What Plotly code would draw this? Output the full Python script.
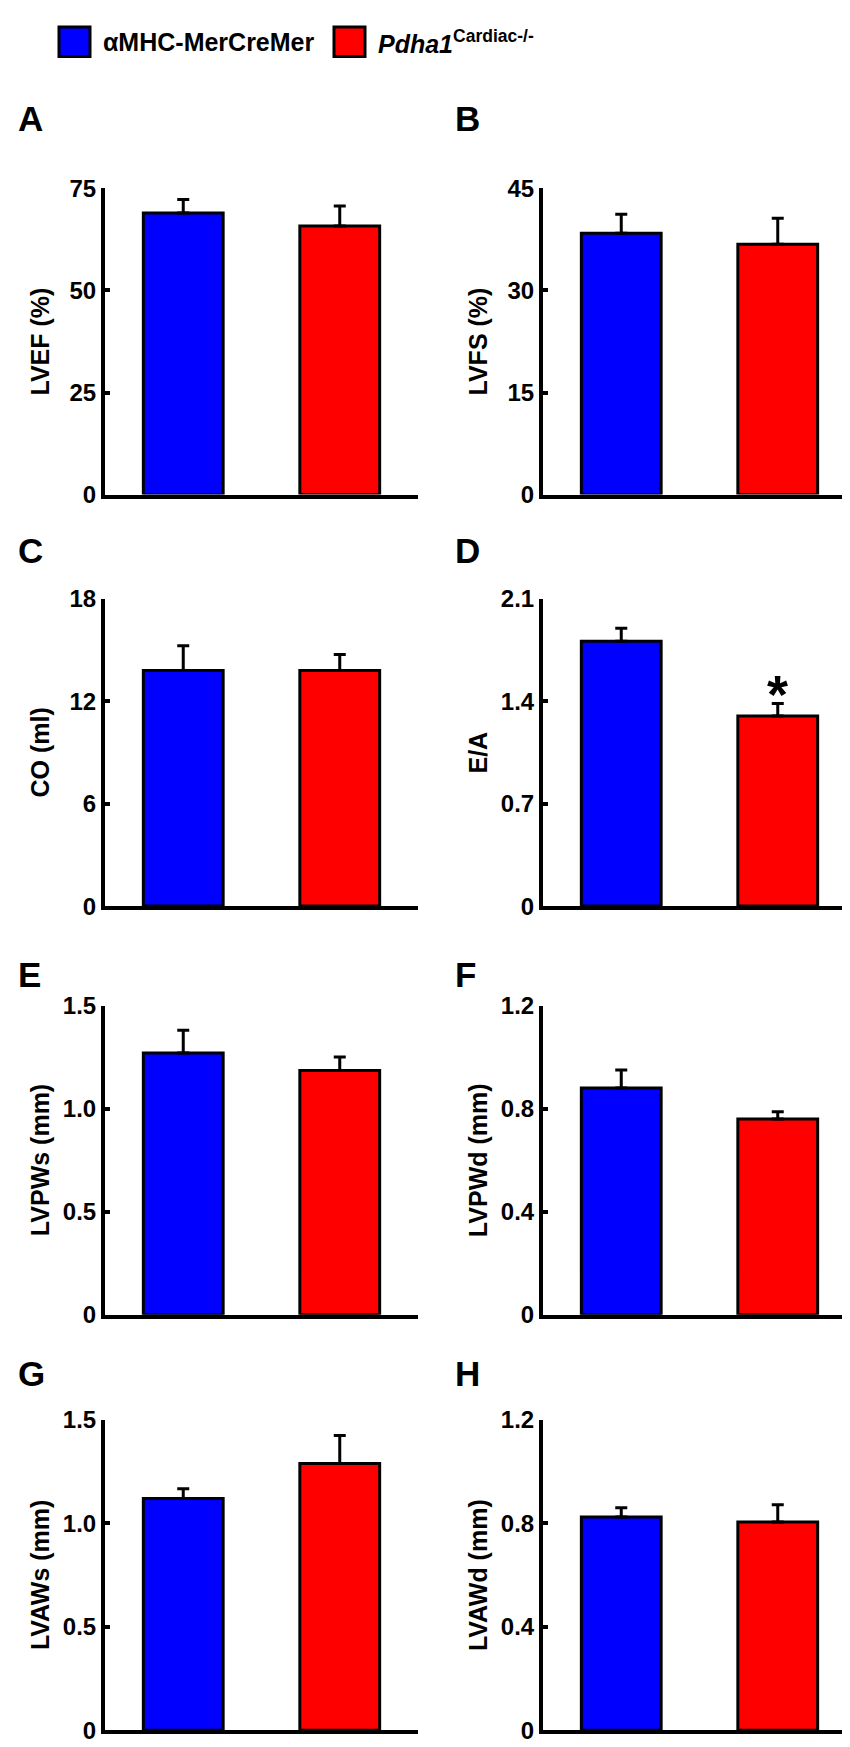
import plotly.graph_objects as go

# ---------------- data ----------------
groups = ["αMHC-MerCreMer", "<i>Pdha1</i><sup>Cardiac-/-</sup>"]
group_colors = ["#0000FF", "#FF0000"]
panel_letters = ["A", "B", "C", "D", "E", "F", "G", "H"]
y_titles = ["LVEF (%)", "LVFS (%)", "CO (ml)", "E/A",
            "LVPWs (mm)", "LVPWd (mm)", "LVAWs (mm)", "LVAWd (mm)"]
control_mean = [69.0, 38.4, 13.8, 1.81, 1.27, 0.88, 1.12, 0.825]
control_sem = [3.3, 2.8, 1.45, 0.09, 0.11, 0.07, 0.048, 0.036]
ko_mean = [65.8, 36.8, 13.8, 1.30, 1.185, 0.76, 1.29, 0.806]
ko_sem = [4.9, 3.8, 0.95, 0.085, 0.065, 0.028, 0.135, 0.066]
y_max = [75, 45, 18, 2.1, 1.5, 1.2, 1.5, 1.2]
y_tickvals = [[0, 25, 50, 75], [0, 15, 30, 45], [0, 6, 12, 18], [0, 0.7, 1.4, 2.1],
              [0, 0.5, 1.0, 1.5], [0, 0.4, 0.8, 1.2], [0, 0.5, 1.0, 1.5], [0, 0.4, 0.8, 1.2]]
y_ticktext = [["0", "25", "50", "75"], ["0", "15", "30", "45"], ["0", "6", "12", "18"],
              ["0", "0.7", "1.4", "2.1"], ["0", "0.5", "1.0", "1.5"], ["0", "0.4", "0.8", "1.2"],
              ["0", "0.5", "1.0", "1.5"], ["0", "0.4", "0.8", "1.2"]]
significance = ["", "", "", "*", "", "", "", ""]   # marker above knockout bar
sig_y = [None, None, None, 1.45, None, None, None, None]

# ---------------- layout geometry ----------------
W, H = 850, 1747
FONT = "Liberation Sans, Arial, sans-serif"
col_px = [(97, 410), (535, 848)]
row_px = [(169, 480), (586, 898), (999, 1313), (1420, 1735)]
letter_y_px = [98, 537, 967, 1373]
letter_x_px = [8, 445]

fig = go.Figure()
layout_axes = {}
annotations = []

for i in range(8):
    r, c = divmod(i, 2)
    n = i + 1
    xa = "x" if n == 1 else f"x{n}"
    ya = "y" if n == 1 else f"y{n}"
    means = [control_mean[i], ko_mean[i]]
    sems = [control_sem[i], ko_sem[i]]
    for g in range(2):
        fig.add_trace(go.Bar(
            x=[g], y=[means[g]], width=0.51,
            marker=dict(color=group_colors[g], line=dict(color="black", width=3)),
            error_y=dict(type="data", symmetric=False, array=[sems[g]], arrayminus=[0],
                         color="black", thickness=3, width=6),
            xaxis=xa, yaxis=ya, showlegend=False,
        ))
    x0, x1 = col_px[c]
    y0, y1 = row_px[r]
    layout_axes[f"xaxis{n}"] = dict(
        domain=[x0 / W, x1 / W], range=[-0.5, 1.5], anchor=ya,
        showticklabels=False, ticks="", showgrid=False, zeroline=False,
        showline=True, linewidth=4, linecolor="black", fixedrange=True,
    )
    layout_axes[f"yaxis{n}"] = dict(
        domain=[1 - y1 / H, 1 - y0 / H], range=[0, y_max[i]], anchor=xa,
        tickvals=y_tickvals[i], ticktext=y_ticktext[i],
        ticks="inside", ticklen=5, tickwidth=4, tickcolor="black",
        tickfont=dict(family=FONT, size=24, color="black", weight="bold"),
        showgrid=False, zeroline=False, showline=True, linewidth=4, linecolor="black",
    )
    annotations.append(dict(
        text=y_titles[i], textangle=-90, showarrow=False,
        xref=f"{xa} domain", yref=f"{ya} domain", x=0, y=0.5,
        xanchor="center", yanchor="middle", xshift=-65,
        font=dict(family=FONT, size=25, color="black", weight="bold"),
    ))
    annotations.append(dict(
        text=panel_letters[i], showarrow=False, xref="paper", yref="paper",
        x=letter_x_px[c] / W, y=1 - letter_y_px[r] / H, xanchor="left", yanchor="middle",
        font=dict(family=FONT, size=35, color="black", weight="bold"),
    ))
    if significance[i]:
        annotations.append(dict(
            text=significance[i], showarrow=False, xref=xa, yref=ya,
            x=1, y=sig_y[i], xanchor="center", yanchor="middle",
            font=dict(family=FONT, size=54, color="black", weight="bold"),
        ))

# legend (drawn manually)
shapes = []
legend_sw = [(51, 82), (326, 357)]
legend_text_x = [93, 368]
for g in range(2):
    sx0, sx1 = legend_sw[g]
    shapes.append(dict(type="rect", xref="paper", yref="paper",
                       x0=sx0 / W, x1=sx1 / W, y0=1 - 35 / H, y1=1 - 5 / H,
                       fillcolor=group_colors[g], line=dict(color="black", width=3)))
    annotations.append(dict(
        text=groups[g], showarrow=False, xref="paper", yref="paper",
        x=legend_text_x[g] / W, y=1 - 20 / H, xanchor="left", yanchor="middle",
        font=dict(family=FONT, size=25, color="black", weight="bold"),
    ))

fig.update_layout(
    width=W, height=H, margin=dict(l=0, r=0, t=0, b=0),
    paper_bgcolor="white", plot_bgcolor="white",
    showlegend=False, barmode="overlay",
    annotations=annotations, shapes=shapes, **layout_axes,
)

fig.write_html("out.html")
